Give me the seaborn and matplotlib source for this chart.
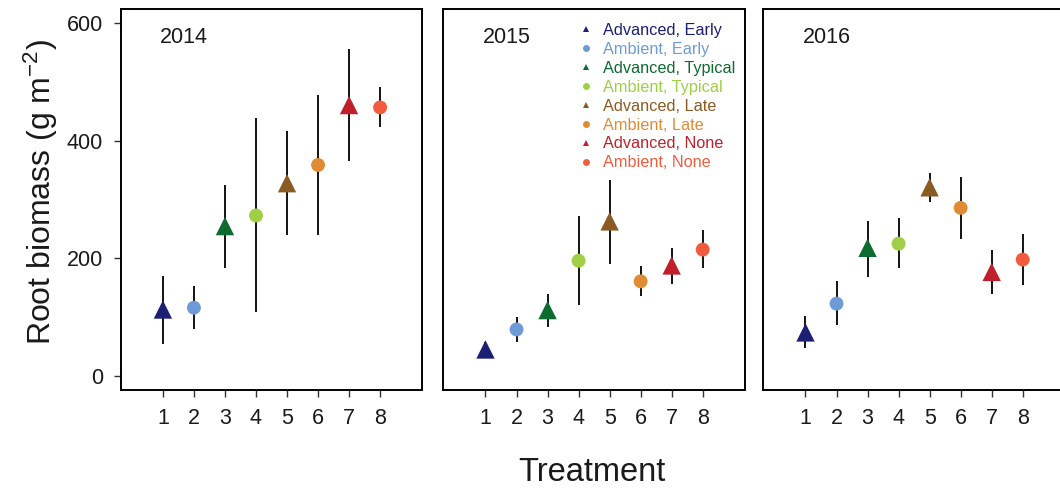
import numpy as np
import pandas as pd
import matplotlib
matplotlib.use("Agg")
import matplotlib.pyplot as plt
from matplotlib.lines import Line2D
import seaborn as sns

years = ["2014", "2015", "2016"]
treatments = [1, 2, 3, 4, 5, 6, 7, 8]
labels = ["Advanced, Early", "Ambient, Early", "Advanced, Typical", "Ambient, Typical",
          "Advanced, Late", "Ambient, Late", "Advanced, None", "Ambient, None"]
colors = ["#1c1f73", "#6e9bd6", "#0e6b30", "#9fcf45",
          "#8a5a22", "#e08c35", "#c0202c", "#f25c3e"]

mean_2014 = [113, 116, 255, 273, 328, 359, 461, 457]
low_2014 = [55, 79, 184, 109, 239, 240, 365, 423]
high_2014 = [170, 153, 325, 439, 417, 478, 556, 491]

mean_2015 = [45, 79, 112, 196, 263, 161, 188, 215]
low_2015 = [31, 58, 83, 121, 191, 136, 157, 183]
high_2015 = [57, 101, 139, 272, 333, 187, 218, 249]

mean_2016 = [74, 123, 218, 225, 321, 286, 177, 198]
low_2016 = [47, 86, 169, 183, 296, 233, 139, 155]
high_2016 = [102, 162, 264, 269, 345, 339, 215, 242]

rows = []
for yr, m, lo, hi in zip(years, [mean_2014, mean_2015, mean_2016],
                         [low_2014, low_2015, low_2016],
                         [high_2014, high_2015, high_2016]):
    for t, lab, a, b, c in zip(treatments, labels, m, lo, hi):
        rows.append({"year": yr, "treatment": t, "label": lab,
                     "biomass": a, "low": b, "high": c,
                     "advanced": lab.startswith("Advanced")})
df = pd.DataFrame(rows)
palette = dict(zip(labels, colors))

sns.set_theme(style="ticks")
plt.rcParams["font.family"] = ["Liberation Sans", "DejaVu Sans"]
plt.rcParams["mathtext.default"] = "regular"

fig = plt.figure(figsize=(10.6, 4.94), dpi=100)
W, H = 1060, 494
lefts = [120.7, 443.3, 763.3]
axes = []
for i, yr in enumerate(years):
    ax = fig.add_axes([lefts[i] / W, 1 - 390 / H, 301.6 / W, (390 - 9.3) / H])
    sub = df[df["year"] == yr]
    ax.vlines(sub["treatment"], sub["low"], sub["high"], color="black", lw=1.3, zorder=2)
    adv = sub[sub["advanced"]]
    amb = sub[~sub["advanced"]]
    sns.scatterplot(data=adv, x="treatment", y="biomass", hue="label", palette=palette,
                    marker="^", s=175, linewidth=0, legend=False, ax=ax, zorder=3)
    sns.scatterplot(data=amb, x="treatment", y="biomass", hue="label", palette=palette,
                    marker="o", s=100, linewidth=0, legend=False, ax=ax, zorder=3)
    ax.set_xlim(-0.36, 9.36)
    ax.set_ylim(-24, 624)
    ax.set_xticks(treatments)
    ax.set_xlabel("")
    ax.set_ylabel("")
    ax.tick_params(axis="both", direction="out", length=4.7, width=1, labelsize=15.5,
                   color="#333333", labelcolor="#1a1a1a")
    ax.tick_params(axis="x", pad=8.5)
    ax.tick_params(axis="y", pad=8)
    if i == 0:
        ax.set_yticks([0, 200, 400, 600])
    else:
        ax.set_yticks([])
    for sp in ax.spines.values():
        sp.set_visible(True)
        sp.set_linewidth(1.4)
        sp.set_color("black")
    ax.text(0.13, 0.925, yr, transform=ax.transAxes, fontsize=15.5, ha="left",
            va="center", color="#1a1a1a")
    axes.append(ax)

handles = [Line2D([], [], linestyle="none", marker="^" if l.startswith("Advanced") else "o",
                  markersize=5, color=c, markeredgewidth=0)
           for l, c in zip(labels, colors)]
leg = axes[1].legend(handles, labels, loc="upper left", bbox_to_anchor=(0.447, 0.964),
                     frameon=False, fontsize=11.7, handlelength=1.0, handletextpad=0.55,
                     labelspacing=0.24, borderpad=0, borderaxespad=0, labelcolor="linecolor")

fig.text(41 / W, 1 - 192 / H, "Root biomass (g m$^{-2}$)", rotation=90,
         ha="center", va="center", fontsize=23, color="#1a1a1a")
fig.text(592 / W, 1 - 472 / H, "Treatment", ha="center", va="center", fontsize=23.5,
         color="#1a1a1a")

fig.savefig("out.png", dpi=100)
